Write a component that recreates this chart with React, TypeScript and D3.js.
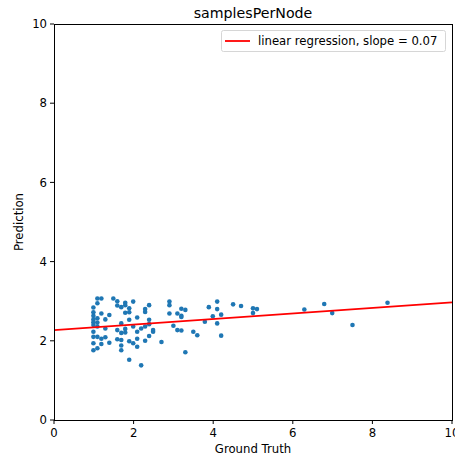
import React from "react";
import * as d3 from "d3";

const title = "samplesPerNode";
const xLabel = "Ground Truth";
const yLabel = "Prediction";
const legendLabel = "linear regression, slope = 0.07";
const xTicks = [0, 2, 4, 6, 8, 10];
const yTicks = [0, 2, 4, 6, 8, 10];
const slope = 0.07;
const intercept = 2.27;

const groundTruth = [
  0.99, 0.99, 0.99, 0.99, 0.99, 0.99, 0.99, 0.99, 0.99, 0.99,
  1.09, 1.09, 1.09, 1.09, 1.09, 1.09, 1.09,
  1.19, 1.19, 1.19, 1.19,
  1.29, 1.29, 1.29,
  1.39, 1.39,
  1.49,
  1.59, 1.59, 1.59, 1.59,
  1.69, 1.69, 1.69, 1.69, 1.69, 1.69,
  1.79, 1.79, 1.79, 1.79, 1.79,
  1.89, 1.89, 1.89, 1.89, 1.89,
  1.99, 1.99, 1.99,
  2.09, 2.09, 2.09, 2.09,
  2.19, 2.19,
  2.29, 2.29, 2.29, 2.29,
  2.39, 2.39, 2.39, 2.39,
  2.49, 2.49,
  2.7,
  2.9, 2.9, 2.9,
  3.0,
  3.1, 3.1,
  3.2, 3.2, 3.2, 3.2,
  3.3, 3.3,
  3.5, 3.6, 3.79, 3.89, 3.99,
  4.1, 4.1, 4.1, 4.2, 4.2,
  4.5, 4.7, 5.0, 5.0, 5.1,
  6.29, 6.79, 6.99, 7.5, 8.38,
];
const predicted = [
  2.84, 2.72, 2.63, 2.54, 2.47, 2.40, 2.23, 2.10, 1.94, 1.76,
  3.07, 2.95, 2.57, 2.46, 2.36, 2.10, 1.81,
  3.07, 2.69, 2.05, 1.92,
  2.54, 2.31, 2.09,
  2.65, 1.95,
  3.07,
  3.00, 2.89, 2.27, 2.04,
  2.85, 2.44, 2.20, 2.02, 1.88, 1.76,
  2.96, 2.90, 2.71, 2.30, 2.21,
  2.82, 2.72, 2.53, 1.99, 1.52,
  2.99, 2.36, 1.94,
  2.59, 2.23, 2.05, 1.85,
  2.31, 1.38,
  2.80, 2.73, 2.36, 2.00,
  2.90, 2.53, 2.42, 2.12,
  2.27, 2.23,
  1.97,
  2.99, 2.90, 2.69,
  2.38,
  2.69, 2.27,
  2.81, 2.63, 2.60, 2.26,
  2.78, 1.71,
  2.23, 2.14, 2.48, 2.85, 2.62,
  2.99, 2.80, 2.44, 2.66, 2.13,
  2.92, 2.88, 2.82, 2.70, 2.80,
  2.79, 2.93, 2.70, 2.40, 2.96,
];

const W = 455;
const H = 457;
const left = 54;
const right = 452;
const top = 24;
const bottom = 420;
const font = "DejaVu Sans, sans-serif";

export default function App() {
  const x = d3.scaleLinear().domain([0, 10]).range([left, right]);
  const y = d3.scaleLinear().domain([0, 10]).range([bottom, top]);
  const lineGen = d3
    .line<number>()
    .x((d) => x(d))
    .y((d) => y(intercept + slope * d));
  const points = groundTruth.map((g, i) => ({ g, p: predicted[i] }));

  return (
    <svg
      width={W}
      height={H}
      style={{ position: "absolute", left: 0, top: 0, background: "#fff" }}
      fontFamily={font}
    >
      <rect x={0} y={0} width={W} height={H} fill="#fff" />
      <text x={(left + right) / 2} y={18} textAnchor="middle" fontSize={14.2} fill="#000">
        {title}
      </text>
      <g>
        {points.map((d, i) => (
          <circle key={i} cx={x(d.g)} cy={y(d.p)} r={2.3} fill="#1f77b4" />
        ))}
      </g>
      <path d={lineGen([0, 10]) || ""} stroke="#ff0000" strokeWidth={1.8} fill="none" />
      <rect
        x={left + 0.5}
        y={top + 0.5}
        width={right - left}
        height={bottom - top}
        fill="none"
        stroke="#000"
        strokeWidth={1}
      />
      {xTicks.map((t) => (
        <g key={"x" + t}>
          <line x1={x(t)} x2={x(t)} y1={bottom} y2={bottom + 4} stroke="#000" strokeWidth={1} />
          <text x={x(t)} y={bottom + 17} textAnchor="middle" fontSize={11.7} fill="#000">
            {t}
          </text>
        </g>
      ))}
      {yTicks.map((t) => (
        <g key={"y" + t}>
          <line x1={left - 4} x2={left} y1={y(t)} y2={y(t)} stroke="#000" strokeWidth={1} />
          <text x={left - 7} y={y(t) + 4.2} textAnchor="end" fontSize={11.7} fill="#000">
            {t}
          </text>
        </g>
      ))}
      <text x={(left + right) / 2} y={453} textAnchor="middle" fontSize={11.7} fill="#000">
        {xLabel}
      </text>
      <text
        transform={`translate(23, ${(top + bottom) / 2}) rotate(-90)`}
        textAnchor="middle"
        fontSize={11.7}
        fill="#000"
      >
        {yLabel}
      </text>
      <g>
        <rect x={221.5} y={30.5} width={224} height={21} rx={2} fill="#fff" fillOpacity={0.8} stroke="#d6d6d6" />
        <line x1={225} x2={250} y1={41} y2={41} stroke="#ff0000" strokeWidth={1.8} />
        <text x={258} y={45.2} fontSize={11.7} fill="#000">
          {legendLabel}
        </text>
      </g>
    </svg>
  );
}
